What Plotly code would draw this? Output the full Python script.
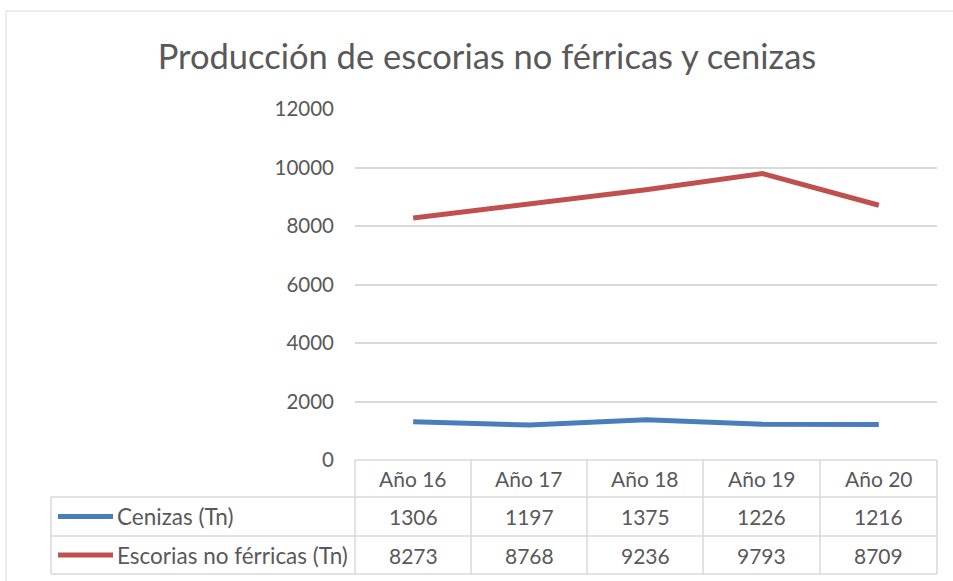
import plotly.graph_objects as go

# data
years = ["Año 16", "Año 17", "Año 18", "Año 19", "Año 20"]
cenizas = [1306, 1197, 1375, 1226, 1216]
escorias = [8273, 8768, 9236, 9793, 8709]
series_names = ["Cenizas (Tn)", "Escorias no férricas (Tn)"]
series_colors = ["#4a7ebb", "#c0504d"]

W, H = 953, 581
FONT = "Lato, 'Open Sans', sans-serif"
TEXT = "#595959"
GRID = "#d9d9d9"


def px(x):
    return x / W


def py(y):
    return 1 - y / H


# pixel layout of the plot area and data table
left, right, top, bottom = 355, 937, 109, 460
col_edges = [355, 471, 587, 703, 820, 937]
row_edges = [460, 497, 536, 574]
table_left = 51

fig = go.Figure()
for name, vals, color in zip(series_names, [cenizas, escorias], series_colors):
    fig.add_trace(go.Scatter(
        x=years, y=vals, name=name, mode="lines",
        line=dict(color=color, width=5),
    ))

shapes = []
# chart frame
shapes.append(dict(type="rect", xref="paper", yref="paper",
                   x0=px(6), x1=px(W + 10), y0=py(11), y1=py(H + 10),
                   line=dict(color=GRID, width=1)))
# horizontal table lines
shapes.append(dict(type="line", xref="paper", yref="paper",
                   x0=px(left), x1=px(right), y0=py(row_edges[0]), y1=py(row_edges[0]),
                   line=dict(color=GRID, width=1.5)))
for r in row_edges[1:]:
    shapes.append(dict(type="line", xref="paper", yref="paper",
                       x0=px(table_left), x1=px(right), y0=py(r), y1=py(r),
                       line=dict(color=GRID, width=1.5)))
# vertical table lines
shapes.append(dict(type="line", xref="paper", yref="paper",
                   x0=px(table_left), x1=px(table_left), y0=py(row_edges[1]), y1=py(row_edges[-1]),
                   line=dict(color=GRID, width=1.5)))
for c in col_edges:
    shapes.append(dict(type="line", xref="paper", yref="paper",
                       x0=px(c), x1=px(c), y0=py(row_edges[0]), y1=py(row_edges[-1]),
                       line=dict(color=GRID, width=1.5)))

annotations = []
row_mid = [(row_edges[i] + row_edges[i + 1]) / 2 for i in range(3)]
col_mid = [(col_edges[i] + col_edges[i + 1]) / 2 for i in range(5)]

for yr, cx in zip(years, col_mid):
    annotations.append(dict(xref="paper", yref="paper", x=px(cx), y=py(row_mid[0]),
                            text=yr, showarrow=False, xanchor="center", yanchor="middle",
                            font=dict(family=FONT, size=21, color=TEXT)))

for i, (name, vals, color) in enumerate(zip(series_names, [cenizas, escorias], series_colors)):
    ym = row_mid[i + 1]
    # legend key
    shapes.append(dict(type="line", xref="paper", yref="paper",
                       x0=px(58), x1=px(113), y0=py(ym), y1=py(ym),
                       line=dict(color=color, width=5)))
    annotations.append(dict(xref="paper", yref="paper", x=px(115), y=py(ym),
                            text=name, showarrow=False, xanchor="left", yanchor="middle",
                            font=dict(family=FONT, size=22.5, color=TEXT)))
    for v, cx in zip(vals, col_mid):
        annotations.append(dict(xref="paper", yref="paper", x=px(cx), y=py(ym),
                                text=str(v), showarrow=False, xanchor="center", yanchor="middle",
                                font=dict(family=FONT, size=21, color=TEXT)))

fig.update_layout(
    width=W, height=H,
    margin=dict(l=0, r=0, t=0, b=0, autoexpand=False),
    paper_bgcolor="white",
    plot_bgcolor="white",
    showlegend=False,
    title=dict(
        text="Producción de escorias no férricas y cenizas",
        x=px(487), xanchor="center", y=py(57), yanchor="middle",
        font=dict(family=FONT, size=34.5, color=TEXT),
    ),
    xaxis=dict(
        domain=[px(left), px(right)],
        type="category", range=[-0.5, 4.5], automargin=False,
        showticklabels=False, showgrid=False, zeroline=False, showline=False,
    ),
    yaxis=dict(
        domain=[py(bottom), py(top)],
        range=[0, 12000], dtick=2000, tickformat="d", automargin=False,
        showgrid=True, gridcolor=GRID, gridwidth=1.5,
        zeroline=False, showline=False,
        ticks="", ticklabelstandoff=20,
        tickfont=dict(family=FONT, size=20.5, color=TEXT),
    ),
    shapes=shapes,
    annotations=annotations,
)

fig.write_html("out.html", config={"displayModeBar": False},
               post_script="document.body.style.margin='0';")
